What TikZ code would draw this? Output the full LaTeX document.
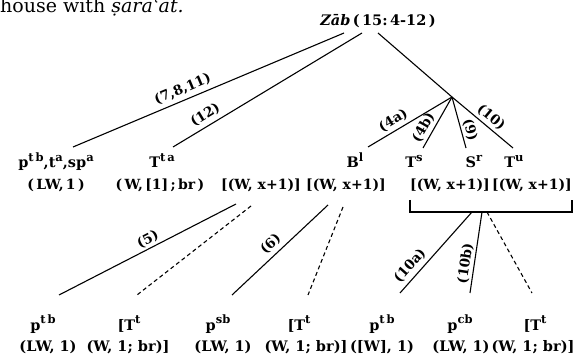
\documentclass[tikz,border=0pt]{standalone}
\usepackage{fontspec}
\setmainfont{DejaVu Serif}
\newcommand\mylblfont{\fontsize{14.5}{16}\selectfont\bfseries}
\newcommand\myrowfont{\fontsize{14}{16}\selectfont\bfseries}
\newcommand\myelfont{\fontsize{13.5}{15}\selectfont\bfseries}
\newcommand\mytopfont{\fontsize{19}{22}\selectfont}
\newcommand\mysup[1]{\raisebox{0.42em}{\fontsize{11.5}{12}\selectfont #1}}
\begin{document}
\begin{tikzpicture}[x=1pt,y=-1pt,
  lbl/.style={inner sep=0pt, anchor=base, font=\mylblfont},
  rowlbl/.style={inner sep=0pt, anchor=base, font=\myrowfont},
  elbl/.style={font=\myelfont, sloped, above, inner sep=4pt},
  edge/.style={line width=1.1pt},
  dedge/.style={line width=1.1pt, dash pattern=on 4pt off 3pt}]
\useasboundingbox (0,0) rectangle (575,355);
% caption fragment
\node[anchor=base west, inner sep=0pt, font=\mytopfont] (cap) at (0,13) {house with \textit{ṣaraʿat.}};
% root
\node[lbl] (root) at (378,26) {\textit{Zāb}\,(\,15:\,4-12\,)};
\coordinate (r1) at (344,33);
\coordinate (r2) at (362,33);
\coordinate (r3) at (378,33);
\coordinate (br) at (452,97);
% first level tops
\coordinate (c1) at (73,147);
\coordinate (c2) at (173,147);
\coordinate (cB) at (368,147);
\coordinate (cTs) at (423,148);
\coordinate (cSr) at (466,148);
\coordinate (cTu) at (513,148);
% first level labels
\node[lbl] (n1) at (56,168) {p\mysup{t\,b},t\mysup{a},sp\mysup{a}};
\node[lbl] (n2) at (162,168) {T\mysup{t\,a}};
\node[lbl] (n3) at (355,168) {B\mysup{l}};
\node[lbl] (n4) at (414,168) {T\mysup{s}};
\node[lbl] (n5) at (474,168) {S\mysup{r}};
\node[lbl] (n6) at (514,168) {T\mysup{u}};
\node[rowlbl] (m1) at (56,190) {(\,LW,\,1\,)};
\node[rowlbl] (m2) at (160,190) {(\,W,\,[1]\,;\,br\,)};
\node[rowlbl] (m3) at (261,190) {[(W, x+1)]};
\node[rowlbl] (m4) at (346,190) {[(W, x+1)]};
\node[rowlbl] (m5) at (450,190) {[(W, x+1)]};
\node[rowlbl] (m6) at (532,190) {[(W, x+1)]};
% edges from root
\draw[edge] (c1) -- node[elbl, pos=0.42] {(7,8,11)} (r1);
\draw[edge] (c2) -- node[elbl, pos=0.2] {(12)} (r2);
\draw[edge] (r3) -- (br);
\draw[edge] (cB) -- node[elbl, pos=0.36, inner sep=3pt] {(4a)} (br);
\draw[edge] (cTs) -- node[elbl, pos=0.31, inner sep=3pt] {(4b)} (br);
\draw[edge] (br) -- node[elbl, pos=0.69, inner sep=2pt] {(9)} (cSr);
\draw[edge] (br) -- node[elbl, pos=0.54, inner sep=3pt] {(10)} (cTu);
% bracket
\coordinate (bkL) at (410,200);
\coordinate (bkR) at (572,200);
\draw[edge] (bkL) -- ++(0,12) -| (bkR);
% second level starts
\coordinate (s3a) at (236,204);
\coordinate (s3b) at (251,206);
\coordinate (s4a) at (328,205);
\coordinate (s4b) at (343,207);
\coordinate (s5a) at (472,212);
\coordinate (s5b) at (482,212);
\coordinate (s5c) at (487,212);
% bottom tops
\coordinate (t1) at (59,295);
\coordinate (t2) at (137,295);
\coordinate (t3) at (232,295);
\coordinate (t4) at (308,295);
\coordinate (t5) at (400,293);
\coordinate (t6) at (470,293);
\coordinate (t7) at (532,293);
\draw[edge] (t1) -- node[elbl, pos=0.525, inner sep=2pt] {(5)} (s3a);
\draw[dedge] (s3b) -- (t2);
\draw[edge] (t3) -- node[elbl, pos=0.48, inner sep=4pt] {(6)} (s4a);
\draw[dedge] (s4b) -- (t4);
\draw[edge] (t5) -- node[elbl, pos=0.25, inner sep=4pt] {(10a)} (s5a);
\draw[edge] (t6) -- node[elbl, pos=0.35, inner sep=2pt] {(10b)} (s5b);
\draw[dedge] (s5c) -- (t7);
% bottom labels
\node[lbl] (b1) at (43,330) {p\mysup{t\,b}};
\node[lbl] (b2) at (129,330) {[T\mysup{t}};
\node[lbl] (b3) at (218,330) {p\mysup{sb}};
\node[lbl] (b4) at (299,330) {[T\mysup{t}};
\node[lbl] (b5) at (382,330) {p\mysup{t\,b}};
\node[lbl] (b6) at (460,330) {p\mysup{cb}};
\node[lbl] (b7) at (535,330) {[T\mysup{t}};
\node[lbl] (e1) at (48,351) {(LW, 1)};
\node[lbl] (e2) at (128,351) {(W, 1; br)]};
\node[lbl] (e3) at (223,351) {(LW, 1)};
\node[lbl] (e4) at (306,351) {(W, 1; br)]};
\node[lbl] (e5) at (382,351) {([W], 1)};
\node[lbl] (e6) at (461,351) {(LW, 1)};
\node[lbl] (e7) at (533,351) {(W, 1; br)]};
\end{tikzpicture}
\end{document}
